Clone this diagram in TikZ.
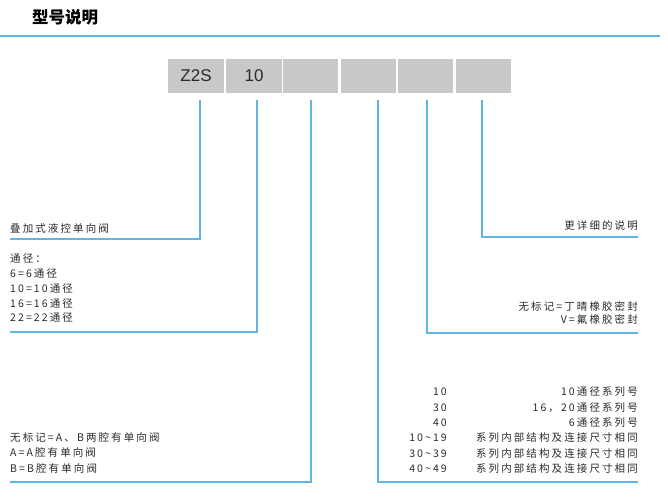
\documentclass[tikz,border=0pt]{standalone}
\usepackage{fontspec}
\setmainfont{Liberation Sans}
\newfontfamily\cjk[LetterSpace=20]{Noto Sans CJK SC}
\newfontfamily\cjkhead{Noto Sans CJK SC}
\usetikzlibrary{positioning}
\definecolor{leadblue}{HTML}{62B5E0}
\definecolor{boxgray}{HTML}{C8C8C8}
\definecolor{txtgray}{HTML}{2A2A2A}

\begin{document}
\begin{tikzpicture}[x=1pt, y=-1pt,
    box/.style={fill=boxgray, minimum width=55.5pt, minimum height=34pt, inner sep=0pt,
      font=\fontsize{17}{17}\selectfont, text=txtgray},
    lead/.style={draw=leadblue, line width=1.1pt},
    lbl/.style={inner sep=0pt, font=\cjk\fontsize{10.5}{15}\selectfont, text=txtgray},
  ]
  \useasboundingbox (0,0) rectangle (668,501);

  % heading and rule under it
  \node[anchor=west, inner sep=0pt, font=\cjkhead\bfseries\fontsize{16.5}{16.5}\selectfont] (head) at (32,17) {型号说明};
  \coordinate (ruleL) at (0,36);
  \coordinate (ruleR) at (660,36);
  \draw[lead] (ruleL) -- (ruleR);

  % code boxes
  \node[box] (b1) at (196,76)   {Z2S};
  \node[box] (b2) at (254,76)   {10};
  \node[box] (b3) at (310.5,76) {};
  \node[box] (b4) at (368.5,76) {};
  \node[box] (b5) at (425.5,76) {};
  \node[box] (b6) at (483.5,76) {};

  % tops of the leader lines
  \coordinate (t1) at (200,100);
  \coordinate (t2) at (257,100);
  \coordinate (t3) at (311,100);
  \coordinate (t4) at (378,100);
  \coordinate (t5) at (427,100);
  \coordinate (t6) at (482,100);

  % free ends of the leader lines
  \coordinate (e1) at (10,239);
  \coordinate (e2) at (10,332);
  \coordinate (e3) at (10,482);
  \coordinate (e4) at (638,482);
  \coordinate (e5) at (638,333);
  \coordinate (e6) at (638,237);

  \draw[lead] (t1) |- (e1);
  \draw[lead] (t2) |- (e2);
  \draw[lead] (t3) |- (e3);
  \draw[lead] (t4) |- (e4);
  \draw[lead] (t5) |- (e5);
  \draw[lead] (t6) |- (e6);

  % left labels
  \node[lbl, anchor=base west] (type) at (10,232) {叠加式液控单向阀};
  \node[lbl, anchor=base west] (dn0) at (10,262)   {通径：};
  \node[lbl, anchor=base west] (dn1) at (10,277)   {6=6通径};
  \node[lbl, anchor=base west] (dn2) at (10,292)   {10=10通径};
  \node[lbl, anchor=base west] (dn3) at (10,307)   {16=16通径};
  \node[lbl, anchor=base west] (dn4) at (10,321.5) {22=22通径};
  \node[lbl, anchor=base west] (ck1) at (10,441)   {无标记=A、B两腔有单向阀};
  \node[lbl, anchor=base west] (ck2) at (10,456)   {A=A腔有单向阀};
  \node[lbl, anchor=base west] (ck3) at (10,472)   {B=B腔有单向阀};

  % right labels
  \node[lbl, anchor=base east] (more) at (638,229) {更详细的说明};
  \node[lbl, anchor=base east] (sl1) at (638,310.5) {无标记=丁晴橡胶密封};
  \node[lbl, anchor=base east] (sl2) at (638,323)   {V=氟橡胶密封};

  % series table
  \node[lbl, anchor=base east] (sr1) at (447,395) {10};
  \node[lbl, anchor=base east] (sr2) at (447,411) {30};
  \node[lbl, anchor=base east] (sr3) at (447,426) {40};
  \node[lbl, anchor=base east] (sr4) at (447,441) {10\textasciitilde19};
  \node[lbl, anchor=base east] (sr5) at (447,457) {30\textasciitilde39};
  \node[lbl, anchor=base east] (sr6) at (447,472) {40\textasciitilde49};
  \node[lbl, anchor=base east] (sd1) at (638,395) {10通径系列号};
  \node[lbl, anchor=base east] (sd2) at (638,411) {16，20通径系列号};
  \node[lbl, anchor=base east] (sd3) at (638,426) {6通径系列号};
  \node[lbl, anchor=base east] (sd4) at (638,441) {系列内部结构及连接尺寸相同};
  \node[lbl, anchor=base east] (sd5) at (638,457) {系列内部结构及连接尺寸相同};
  \node[lbl, anchor=base east] (sd6) at (638,472) {系列内部结构及连接尺寸相同};
\end{tikzpicture}
\end{document}
